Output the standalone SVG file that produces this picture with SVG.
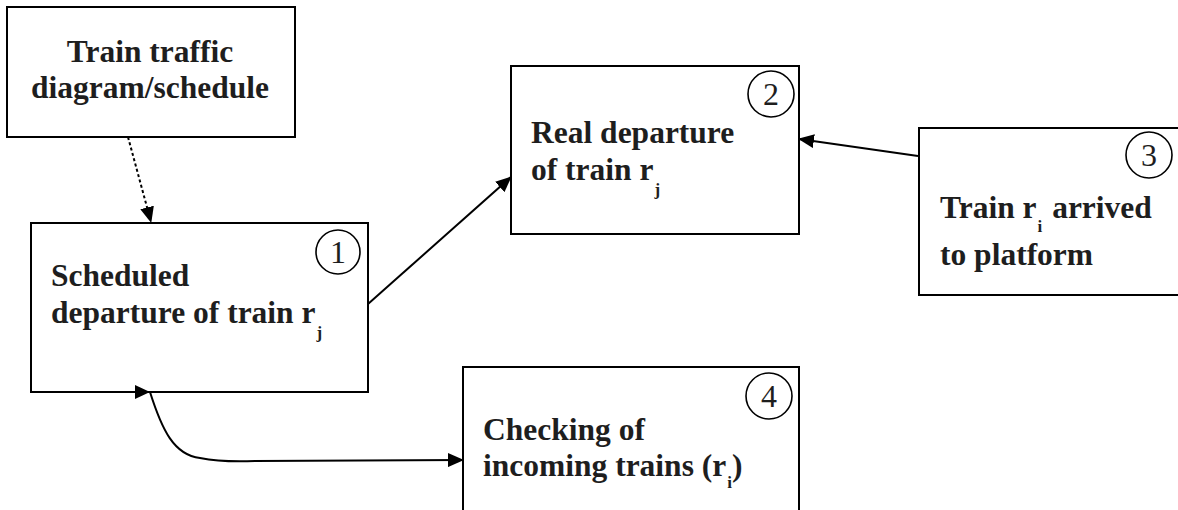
<svg xmlns="http://www.w3.org/2000/svg" width="1178" height="510" viewBox="0 0 1178 510">
<style>
.box{fill:#fff;stroke:#000;stroke-width:2}
.t{font-family:"Liberation Serif","Times New Roman",serif;font-weight:bold;font-size:31.5px;fill:#1e1e1e}
.sub{font-size:17px}
.num{font-family:"Liberation Serif","Times New Roman",serif;font-size:32px;fill:#1e1e1e;text-anchor:middle}
.circ{fill:none;stroke:#000;stroke-width:1.6}
.ln{fill:none;stroke:#000;stroke-width:2}
</style>
<defs>
<marker id="ah" markerWidth="16" markerHeight="14" refX="15" refY="7" orient="auto" markerUnits="userSpaceOnUse">
<path d="M0,0 L16,7 L0,14 Z" fill="#000"/>
</marker>
</defs>
<g id="node-schedule">
<rect class="box" x="7" y="7" width="288" height="130"/>
<text class="t" x="150" y="62" text-anchor="middle">Train traffic</text>
<text class="t" x="150" y="98" text-anchor="middle">diagram/schedule</text>
</g>
<g id="node-1">
<rect class="box" x="31" y="223" width="337" height="169"/>
<circle class="circ" cx="338" cy="252" r="22"/>
<text class="num" x="338" y="263">1</text>
<text class="t" x="51" y="286">Scheduled</text>
<text class="t" x="51" y="323">departure of train r<tspan class="sub" dx="1" dy="15">j</tspan></text>
</g>
<g id="node-2">
<rect class="box" x="511" y="66" width="288" height="168"/>
<circle class="circ" cx="771" cy="94" r="23"/>
<text class="num" x="771" y="105">2</text>
<text class="t" x="531" y="143">Real departure</text>
<text class="t" x="531" y="180">of train r<tspan class="sub" dx="1" dy="15">j</tspan></text>
</g>
<g id="node-3">
<rect class="box" x="919" y="128" width="270" height="167"/>
<circle class="circ" cx="1149" cy="155" r="23"/>
<text class="num" x="1149" y="166">3</text>
<text class="t" x="940" y="218">Train r<tspan class="sub" dx="1" dy="14">i</tspan><tspan dx="2" dy="-14"> arrived</tspan></text>
<text class="t" x="940" y="265">to platform</text>
</g>
<g id="node-4">
<rect class="box" x="463" y="367" width="336" height="160"/>
<circle class="circ" cx="769" cy="396" r="23"/>
<text class="num" x="769" y="407">4</text>
<text class="t" x="483" y="440">Checking of</text>
<text class="t" x="483" y="476">incoming trains (r<tspan class="sub" dx="1" dy="12">i</tspan><tspan dy="-12">)</tspan></text>
</g>
<g id="connectors">
<path class="ln" d="M128,137 L151,222" stroke-dasharray="3,2.5" marker-end="url(#ah)"/>
<path class="ln" d="M368,304 L511,177" marker-end="url(#ah)"/>
<path class="ln" d="M918,156 L799,139" marker-end="url(#ah)"/>
<path class="ln" d="M150,392 C162,430 174,455 200,458 C215,461 232,462 255,461 L463,460" marker-end="url(#ah)"/>
<path d="M135,385 L150,392 L135,399 Z" fill="#000"/>
</g>
</svg>
